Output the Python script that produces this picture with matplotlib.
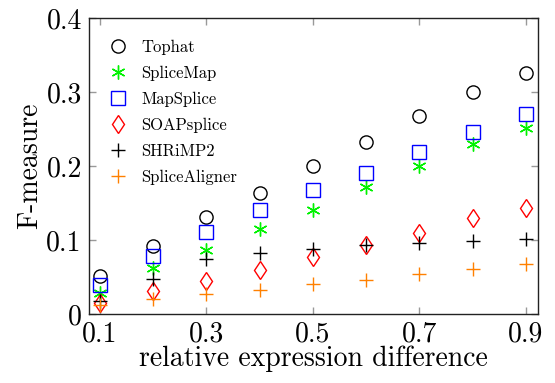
import matplotlib
matplotlib.use("Agg")
import matplotlib.pyplot as plt

plt.rcParams['font.family'] = 'serif'
plt.rcParams['font.serif'] = ['cmr10']
plt.rcParams['mathtext.fontset'] = 'cm'
plt.rcParams['axes.formatter.use_mathtext'] = True

x = [0.1, 0.2, 0.3, 0.4, 0.5, 0.6, 0.7, 0.8, 0.9]
tophat = [0.051, 0.092, 0.131, 0.163, 0.200, 0.233, 0.267, 0.300, 0.326]
splicemap = [0.028, 0.062, 0.086, 0.115, 0.141, 0.172, 0.200, 0.230, 0.251]
mapsplice = [0.039, 0.078, 0.111, 0.141, 0.167, 0.191, 0.219, 0.246, 0.270]
soapsplice = [0.015, 0.031, 0.045, 0.059, 0.077, 0.093, 0.109, 0.130, 0.143]
shrimp2 = [0.018, 0.048, 0.074, 0.083, 0.088, 0.093, 0.096, 0.099, 0.101]
splicealigner = [0.012, 0.021, 0.027, 0.033, 0.041, 0.046, 0.054, 0.061, 0.067]

xticks = [0.1, 0.3, 0.5, 0.7, 0.9]
yticks = [0, 0.1, 0.2, 0.3, 0.4]
xtick_labels = ['0.1', '0.3', '0.5', '0.7', '0.9']
ytick_labels = ['0', '0.1', '0.2', '0.3', '0.4']

fig = plt.figure(figsize=(5.55, 3.83), dpi=100)
ax = fig.add_axes([0.160, 0.180, 0.809, 0.773])

ax.plot(x, tophat, linestyle='none', marker='o', ms=9.5, mfc='none', mec='black', mew=1.0, label='Tophat')
ax.plot(x, splicemap, linestyle='none', marker=(6, 2, 0), ms=10, mec=(0, 0.95, 0), color=(0, 0.95, 0), mew=1.0, label='SpliceMap')
ax.plot(x, mapsplice, linestyle='none', marker='s', ms=9.5, mfc='none', mec='blue', mew=1.0, label='MapSplice')
ax.plot(x, soapsplice, linestyle='none', marker='d', ms=9.5, mfc='none', mec='red', mew=1.0, label='SOAPsplice')
ax.plot(x, shrimp2, linestyle='none', marker='+', ms=10, mec='black', mew=1.0, label='SHRiMP2')
ax.plot(x, splicealigner, linestyle='none', marker='+', ms=10, mec=(1, 0.5, 0), mew=1.0, label='SpliceAligner')

ax.set_xlim(0.079, 0.9225)
ax.set_ylim(0, 0.4)
ax.set_xticks(xticks)
ax.set_xticklabels(xtick_labels)
ax.set_yticks(yticks)
ax.set_yticklabels(ytick_labels)
ax.tick_params(direction='in', length=5, color='#999999', width=1.0, top=True, right=True, labelsize=20, pad=5)
for s in ax.spines.values():
    s.set_color('#222222')
    s.set_linewidth(1.0)

ax.set_xlabel('relative expression difference', fontsize=20, labelpad=-1)
ax.set_ylabel('F-measure', fontsize=20, labelpad=2)

leg = ax.legend(loc='upper left', frameon=False, fontsize=12, handletextpad=0.6,
                labelspacing=0.64, borderaxespad=0.0, bbox_to_anchor=(0.02, 0.95),
                handlelength=1.6)

fig.savefig('out.png', dpi=100)
